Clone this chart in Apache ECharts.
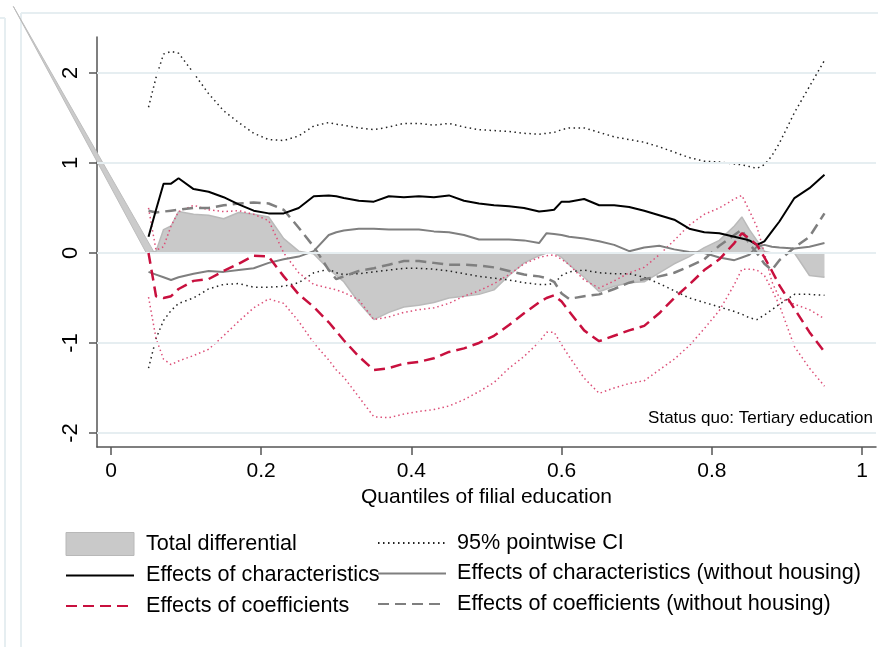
<!DOCTYPE html>
<html>
<head>
<meta charset="utf-8">
<title>Decomposition across quantiles of filial education</title>
<script src="https://cdn.jsdelivr.net/npm/echarts@6/dist/echarts.min.js"></script>
<style>
  html, body { margin: 0; padding: 0; background: #fff; }
  #chart { width: 878px; height: 647px; }
</style>
</head>
<body>
<div id="chart"></div>
<script>
// quantiles of filial education (x)
var quantiles = [0.05,0.06,0.07,0.08,0.09,0.11,0.13,0.15,0.17,0.19,0.21,0.23,0.25,0.27,0.29,0.30,0.31,0.33,0.35,0.37,0.39,0.41,0.43,0.45,0.47,0.49,0.51,0.53,0.55,0.57,0.58,0.59,0.60,0.61,0.63,0.65,0.67,0.69,0.71,0.73,0.75,0.77,0.79,0.81,0.83,0.84,0.85,0.86,0.87,0.88,0.89,0.91,0.93,0.95];

var totalDiff = [0.00,0.02,0.26,0.30,0.46,0.43,0.42,0.38,0.45,0.43,0.40,0.16,0.02,-0.01,-0.18,-0.25,-0.32,-0.55,-0.74,-0.66,-0.60,-0.58,-0.55,-0.50,-0.48,-0.46,-0.41,-0.25,-0.11,-0.03,0.00,0.00,-0.05,-0.13,-0.27,-0.43,-0.37,-0.33,-0.32,-0.22,-0.12,-0.04,0.06,0.14,0.30,0.40,0.26,0.14,0.02,0.00,0.00,0.00,-0.25,-0.27];

var charEffect = [0.18,0.48,0.77,0.77,0.83,0.71,0.68,0.62,0.54,0.47,0.44,0.44,0.50,0.63,0.64,0.63,0.61,0.58,0.57,0.63,0.62,0.63,0.62,0.64,0.58,0.55,0.53,0.52,0.50,0.46,0.47,0.48,0.57,0.57,0.60,0.53,0.53,0.51,0.47,0.42,0.37,0.27,0.23,0.22,0.18,0.16,0.14,0.09,0.13,0.24,0.35,0.61,0.72,0.87];

var charEffectNoHousing = [-0.21,-0.24,-0.27,-0.30,-0.27,-0.23,-0.20,-0.21,-0.19,-0.17,-0.11,-0.07,-0.04,0.02,0.20,0.23,0.25,0.27,0.27,0.26,0.26,0.26,0.24,0.23,0.20,0.15,0.15,0.15,0.14,0.11,0.22,0.21,0.20,0.18,0.16,0.13,0.09,0.02,0.06,0.08,0.04,0.01,0.00,-0.05,-0.08,-0.05,-0.02,0.07,0.09,0.07,0.06,0.05,0.07,0.11];

var coefEffect = [0.00,-0.48,-0.50,-0.48,-0.40,-0.31,-0.29,-0.20,-0.12,-0.03,-0.04,-0.26,-0.46,-0.60,-0.77,-0.87,-0.97,-1.15,-1.30,-1.28,-1.23,-1.21,-1.17,-1.10,-1.06,-1.00,-0.92,-0.80,-0.67,-0.55,-0.50,-0.47,-0.54,-0.65,-0.86,-0.98,-0.92,-0.86,-0.81,-0.67,-0.50,-0.35,-0.19,-0.07,0.11,0.22,0.16,0.09,-0.05,-0.20,-0.36,-0.62,-0.88,-1.10];

var coefEffectNoHousing = [0.47,0.45,0.46,0.47,0.48,0.50,0.50,0.53,0.55,0.56,0.55,0.48,0.28,0.07,-0.19,-0.29,-0.26,-0.20,-0.17,-0.13,-0.09,-0.09,-0.11,-0.13,-0.13,-0.14,-0.16,-0.20,-0.24,-0.26,-0.28,-0.32,-0.45,-0.51,-0.48,-0.46,-0.40,-0.33,-0.29,-0.26,-0.22,-0.15,-0.07,0.08,0.20,0.26,0.10,0.00,-0.12,-0.19,-0.08,0.06,0.18,0.44];

var charCiUpper = [1.62,1.95,2.21,2.24,2.22,2.00,1.77,1.58,1.45,1.33,1.26,1.25,1.30,1.41,1.45,1.43,1.42,1.39,1.37,1.40,1.44,1.44,1.42,1.44,1.40,1.37,1.36,1.35,1.33,1.32,1.33,1.34,1.37,1.39,1.39,1.34,1.29,1.26,1.23,1.18,1.12,1.06,1.02,1.01,0.99,0.98,0.96,0.94,0.98,1.08,1.22,1.56,1.85,2.14];

var charCiLower = [-1.28,-0.95,-0.75,-0.64,-0.56,-0.50,-0.40,-0.35,-0.34,-0.38,-0.38,-0.37,-0.33,-0.22,-0.18,-0.22,-0.24,-0.23,-0.21,-0.19,-0.17,-0.17,-0.18,-0.20,-0.23,-0.26,-0.28,-0.30,-0.33,-0.35,-0.35,-0.34,-0.25,-0.21,-0.19,-0.22,-0.23,-0.23,-0.27,-0.34,-0.42,-0.50,-0.55,-0.60,-0.65,-0.68,-0.72,-0.74,-0.69,-0.63,-0.57,-0.46,-0.46,-0.47];

var coefCiUpper = [0.50,0.03,0.07,0.30,0.46,0.53,0.48,0.46,0.47,0.43,0.36,0.00,-0.22,-0.35,-0.39,-0.41,-0.44,-0.52,-0.74,-0.71,-0.66,-0.63,-0.61,-0.56,-0.48,-0.42,-0.34,-0.24,-0.12,-0.05,-0.03,-0.02,-0.07,-0.13,-0.30,-0.39,-0.31,-0.22,-0.16,-0.02,0.14,0.31,0.43,0.50,0.60,0.64,0.47,0.29,0.00,-0.32,-0.50,-0.57,-0.63,-0.73];

var coefCiLower = [-0.49,-0.95,-1.18,-1.24,-1.20,-1.14,-1.07,-0.92,-0.76,-0.61,-0.51,-0.56,-0.76,-1.00,-1.19,-1.30,-1.38,-1.60,-1.82,-1.83,-1.79,-1.76,-1.74,-1.70,-1.63,-1.54,-1.44,-1.28,-1.15,-0.99,-0.88,-0.88,-1.02,-1.15,-1.39,-1.56,-1.50,-1.45,-1.42,-1.30,-1.18,-1.03,-0.84,-0.64,-0.35,-0.18,-0.18,-0.19,-0.25,-0.41,-0.58,-1.04,-1.28,-1.48];

// stray sliver of the area fill that runs off the plot to the upper left
var spikeX = [-0.130, 0.047, 0.058];
var spikeY = [2.74, 0, 0];

var xTicks = [0, 0.2, 0.4, 0.6, 0.8, 1];
var xTickLabels = ['0', '0.2', '0.4', '0.6', '0.8', '1'];
var yTicks = [-2, -1, 0, 1, 2];
var yTickLabels = ['-2', '-1', '0', '1', '2'];
var xRange = [-0.0186, 1.0186];
var yRange = [-2.156, 2.4];

var FONT = 'Liberation Sans, Arial, sans-serif';
var RED = '#c8103e';
var GREY = '#7f7f7f';

function pairs(ys) {
    return quantiles.map(function (q, i) { return [q, ys[i]]; });
}

var chart = echarts.init(document.getElementById('chart'));

var legendText = { fontSize: 21.6, color: '#000', fontFamily: FONT };

var option = {
    animation: false,
    backgroundColor: '#fff',
    grid: { left: 97, top: 37, right: 2, bottom: 200 },
    title: {
        text: 'Status quo: Tertiary education',
        right: 5, top: 410, padding: 0,
        textStyle: { fontSize: 17, fontWeight: 'normal', color: '#000', fontFamily: FONT }
    },
    legend: [
        {
            orient: 'vertical', left: 65, top: 532, padding: 0,
            itemWidth: 68, itemHeight: 23, itemGap: 8.5, selectedMode: false,
            itemStyle: { opacity: 0 },
            textStyle: Object.assign({ padding: [0, 0, 0, 7] }, legendText),
            data: [
                { name: 'Total differential', icon: 'rect',
                  itemStyle: { opacity: 1, color: '#c9c9c9', borderColor: '#b8b8b8', borderWidth: 1 } },
                'Effects of characteristics',
                'Effects of coefficients'
            ]
        },
        {
            orient: 'vertical', left: 377, top: 532, padding: 0,
            itemWidth: 68, itemHeight: 23, itemGap: 8.5, selectedMode: false,
            itemStyle: { opacity: 0 },
            textStyle: Object.assign({ padding: [0, 0, 0, 6] }, legendText),
            data: [
                '95% pointwise CI',
                'Effects of characteristics (without housing)',
                'Effects of coefficients (without housing)'
            ]
        }
    ],
    xAxis: {
        type: 'value', min: xRange[0], max: xRange[1],
        name: 'Quantiles of filial education', nameLocation: 'middle', nameGap: 35,
        nameTextStyle: { fontSize: 21, color: '#000', fontFamily: FONT },
        axisLine: { onZero: false, lineStyle: { color: '#555', width: 1.5 } },
        axisTick: { customValues: xTicks, length: 8, lineStyle: { color: '#555', width: 1.5 } },
        axisLabel: {
            customValues: xTicks, margin: 14, fontSize: 21, color: '#000', fontFamily: FONT,
            formatter: function (v) { return xTickLabels[xTicks.indexOf(v)] || String(v); }
        },
        splitLine: { show: false }
    },
    yAxis: {
        type: 'value', min: yRange[0], max: yRange[1],
        axisLine: { show: true, onZero: false, lineStyle: { color: '#555', width: 1.5 } },
        axisTick: { show: true, customValues: yTicks, length: 8, lineStyle: { color: '#555', width: 1.5 } },
        axisLabel: {
            customValues: yTicks, rotate: 90, margin: 15, fontSize: 22, color: '#000', fontFamily: FONT,
            formatter: function (v) { return yTickLabels[yTicks.indexOf(v)] || String(v); }
        },
        splitLine: { show: false }
    },
    graphic: [
        { type: 'line', shape: { x1: 5, y1: 18, x2: 5, y2: 647 }, style: { stroke: '#e6eef1', lineWidth: 2 }, silent: true },
        { type: 'line', shape: { x1: 0, y1: 18, x2: 5, y2: 18 }, style: { stroke: '#e6eef1', lineWidth: 2 }, silent: true },
        { type: 'line', shape: { x1: 21, y1: 13, x2: 21, y2: 647 }, style: { stroke: '#e6eef1', lineWidth: 2 }, silent: true },
        { type: 'line', shape: { x1: 21, y1: 13, x2: 878, y2: 13 }, style: { stroke: '#e6eef1', lineWidth: 2 }, silent: true }
    ],
    series: [
        {
            name: 'gridlines', type: 'line', data: [], z: 1, silent: true,
            markLine: {
                silent: true, symbol: ['none', 'none'], label: { show: false },
                lineStyle: { color: '#e6eef1', width: 2, type: 'solid' },
                data: yTicks.map(function (v) { return { yAxis: v }; })
            }
        },
        {
            name: 'spike', type: 'custom', z: 2, clip: false, silent: true,
            data: [[spikeX[0], spikeY[0]]],
            renderItem: function (params, api) {
                var pts = spikeX.map(function (x, i) { return api.coord([x, spikeY[i]]); });
                return { type: 'polygon', shape: { points: pts },
                         style: { fill: '#cbcbcb', stroke: '#bdbdbd', lineWidth: 1 } };
            }
        },
        {
            name: 'Total differential', type: 'line', z: 2, data: pairs(totalDiff),
            symbol: 'none', silent: true,
            itemStyle: { color: '#c9c9c9' },
            lineStyle: { color: '#bababa', width: 1.5 },
            areaStyle: { color: '#c9c9c9', opacity: 1, origin: 0 }
        },
        {
            name: 'area base', type: 'line', z: 2, silent: true, symbol: 'none',
            data: [[quantiles[0], 0], [quantiles[quantiles.length - 1], 0]],
            lineStyle: { color: '#bababa', width: 1.5 }
        },
        {
            name: '95% pointwise CI', type: 'line', z: 3, data: pairs(charCiUpper), symbol: 'none',
            itemStyle: { color: '#222' },
            lineStyle: { color: '#222', width: 1.5, type: [1.5, 3.5] }
        },
        {
            name: '95% pointwise CI', type: 'line', z: 3, data: pairs(charCiLower), symbol: 'none',
            itemStyle: { color: '#222' },
            lineStyle: { color: '#222', width: 1.5, type: [1.5, 3.5] }
        },
        {
            name: 'CI coefficients upper', type: 'line', z: 3, data: pairs(coefCiUpper), symbol: 'none',
            lineStyle: { color: '#dc4f78', width: 1.5, type: [1.5, 3] }
        },
        {
            name: 'CI coefficients lower', type: 'line', z: 3, data: pairs(coefCiLower), symbol: 'none',
            lineStyle: { color: '#dc4f78', width: 1.5, type: [1.5, 3] }
        },
        {
            name: 'Effects of characteristics (without housing)', type: 'line', z: 4,
            data: pairs(charEffectNoHousing), symbol: 'none',
            itemStyle: { color: GREY },
            lineStyle: { color: GREY, width: 2 }
        },
        {
            name: 'Effects of coefficients (without housing)', type: 'line', z: 4,
            data: pairs(coefEffectNoHousing), symbol: 'none',
            itemStyle: { color: GREY },
            lineStyle: { color: GREY, width: 2.5, type: [11, 6] }
        },
        {
            name: 'Effects of characteristics', type: 'line', z: 5,
            data: pairs(charEffect), symbol: 'none',
            itemStyle: { color: '#000' },
            lineStyle: { color: '#000', width: 2 }
        },
        {
            name: 'Effects of coefficients', type: 'line', z: 5,
            data: pairs(coefEffect), symbol: 'none',
            itemStyle: { color: RED },
            lineStyle: { color: RED, width: 2.5, type: [11, 6] }
        }
    ]
};

chart.setOption(option);
</script>
</body>
</html>
